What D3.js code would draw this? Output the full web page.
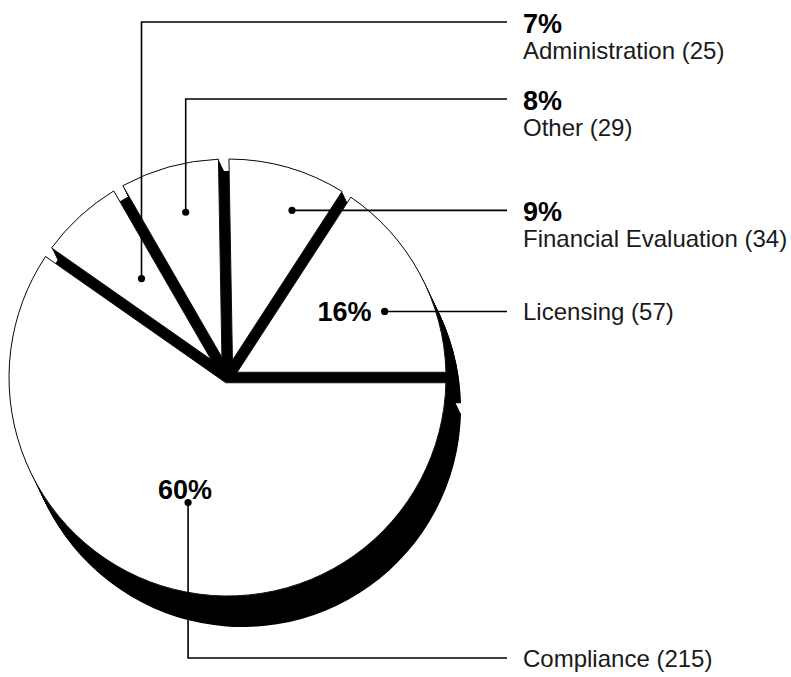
<!DOCTYPE html>
<html>
<head>
<meta charset="utf-8">
<script src="https://cdn.jsdelivr.net/npm/d3@7"></script>
<style>
  html, body { margin: 0; background: #fff; }
  svg { display: block; }
</style>
</head>
<body>
<svg id="chart" width="791" height="677"></svg>
<script>
// Case counts by category (they add up to 360)
const categories = ["Administration", "Other", "Financial Evaluation", "Licensing", "Compliance"];
const values = [25, 29, 34, 57, 215];

// Geometry of the pie
const cx = 227.5, cy = 377.5, R = 218.5;
const gap = 10.5;            // width of the channel between neighbouring slices
const depth = [15, 31];      // extrusion vector of the slab under the slices
const startDeg = -55;        // where the first slice begins (0 = 12 o'clock)

// Label layout: where each leader starts inside its slice and where it bends
const labelLayout = [
  { frac: 0.56,  radius: 0.60, elbowY: 22,  pctInside: false },
  { frac: 0.545, radius: 0.78, elbowY: 99,  pctInside: false },
  { frac: 0.65,  radius: 0.82, elbowY: null, pctInside: false },
  { frac: 0.60,  radius: 0.78, elbowY: null, pctInside: "left" },
  { frac: 0.50,  radius: 0.60, elbowY: 658, pctInside: "above" }
];
const leaderEndX = 507, labelX = 523;
const FONT = "'Liberation Sans', Arial, Helvetica, sans-serif";

const svg = d3.select("#chart");
const total = d3.sum(values);
const data = categories.map((name, i) => ({ name, value: values[i], layout: labelLayout[i] }));
const rad = Math.PI / 180;
const pie = d3.pie()
  .sort(null)
  .value(d => d.value)
  .startAngle(startDeg * rad)
  .endAngle((startDeg + 360) * rad);
const arcs = pie(data);

// A slice whose straight sides are pulled in by gap/2, so neighbours
// are separated by a channel of constant width.
function facePath(a0, a1) {
  const d = gap / 2;
  const n0 = [Math.cos(a0), Math.sin(a0)];
  const n1 = [-Math.cos(a1), -Math.sin(a1)];
  const det = n0[0] * n1[1] - n0[1] * n1[0];
  const ax = (d * n1[1] - n0[1] * d) / det;
  const ay = (n0[0] * d - d * n1[0]) / det;
  const s = Math.sqrt(R * R - d * d);
  const u0 = [Math.sin(a0), -Math.cos(a0)];
  const c0 = [d * n0[0] + s * u0[0], d * n0[1] + s * u0[1]];
  const e = Math.asin(d / R);
  const p = d3.path();
  p.moveTo(cx + ax, cy + ay);
  p.lineTo(cx + c0[0], cy + c0[1]);
  p.arc(cx, cy, R, a0 + e - Math.PI / 2, a1 - e - Math.PI / 2, false);
  p.closePath();
  return p.toString();
}

// Black extruded slab: each slice swept along the depth vector
const steps = d3.range(0, 41).map(t => t / 40);
const slab = svg.append("g");
arcs.forEach(a => {
  const dp = facePath(a.startAngle, a.endAngle);
  slab.selectAll(null)
    .data(steps)
    .join("path")
    .attr("d", dp)
    .attr("transform", t => `translate(${t * depth[0]},${t * depth[1]})`)
    .attr("fill", "#000");
});
// dark core seen through the channels
slab.append("circle")
  .attr("cx", cx).attr("cy", cy).attr("r", R - 12)
  .attr("fill", "#000");

// White slice faces
svg.append("g")
  .selectAll("path")
  .data(arcs)
  .join("path")
  .attr("d", a => facePath(a.startAngle, a.endAngle))
  .attr("fill", "#fff")
  .attr("stroke", "#111")
  .attr("stroke-width", 1);

// Leaders and labels
const pctFmt = v => Math.round(v / total * 100) + "%";
const g = svg.append("g");
arcs.forEach(a => {
  const L = a.data.layout;
  const ang = a.startAngle + L.frac * (a.endAngle - a.startAngle);
  const rr = L.radius * R;
  const px = cx + rr * Math.sin(ang), py = cy - rr * Math.cos(ang);
  const lineY = L.elbowY == null ? py : L.elbowY;
  const pts = L.elbowY == null
    ? [[px, py], [leaderEndX, py]]
    : [[px, py], [px, L.elbowY], [leaderEndX, L.elbowY]];
  g.append("path")
    .attr("d", d3.line()(pts))
    .attr("fill", "none")
    .attr("stroke", "#000")
    .attr("stroke-width", 1.6);
  g.append("circle")
    .attr("cx", px).attr("cy", py).attr("r", 3.6)
    .attr("fill", "#000");

  if (!L.pctInside) {
    g.append("text")
      .attr("x", labelX).attr("y", lineY + 10.5)
      .attr("font-family", FONT).attr("font-weight", "bold").attr("font-size", 27)
      .attr("fill", "#000")
      .text(pctFmt(a.data.value));
    g.append("text")
      .attr("x", labelX).attr("y", lineY + 37)
      .attr("font-family", FONT).attr("font-size", 24)
      .attr("fill", "#1a1a1a")
      .text(`${a.data.name} (${a.data.value})`);
  } else {
    g.append("text")
      .attr("x", labelX).attr("y", lineY + 9)
      .attr("font-family", FONT).attr("font-size", 24)
      .attr("fill", "#1a1a1a")
      .text(`${a.data.name} (${a.data.value})`);
    const t = g.append("text")
      .attr("font-family", FONT).attr("font-weight", "bold").attr("font-size", 27)
      .attr("fill", "#000")
      .text(pctFmt(a.data.value));
    if (L.pctInside === "left") {
      t.attr("x", px - 13).attr("y", py + 10).attr("text-anchor", "end");
    } else {
      t.attr("x", px - 3).attr("y", py - 4).attr("text-anchor", "middle");
    }
  }
});
</script>
</body>
</html>
